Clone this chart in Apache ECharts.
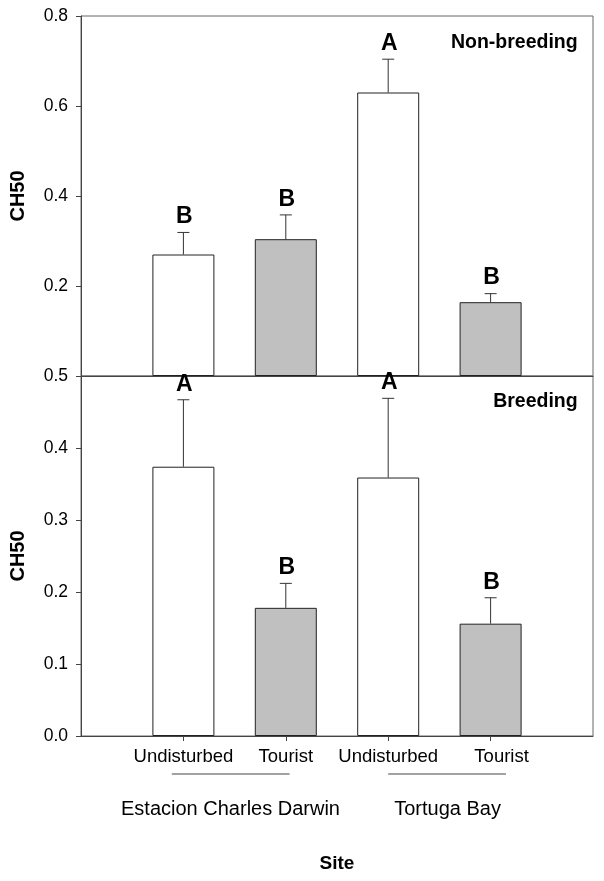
<!DOCTYPE html>
<html>
<head>
<meta charset="utf-8">
<script src="https://cdn.jsdelivr.net/npm/echarts@6/dist/echarts.min.js"></script>
<style>
html,body{margin:0;padding:0;background:#fff;}
#chart{width:604px;height:881px;}
</style>
</head>
<body>
<div id="chart"></div>
<script>
// ---- data ----
const categories = ['Undisturbed', 'Tourist', 'Undisturbed', 'Tourist'];
const sites = ['Estacion Charles Darwin', 'Tortuga Bay'];
const nonBreedingMean = [0.270, 0.304, 0.630, 0.164];
const nonBreedingErr  = [0.049, 0.054, 0.074, 0.019];
const nonBreedingLetters = ['B', 'B', 'A', 'B'];
const breedingMean = [0.374, 0.178, 0.359, 0.156];
const breedingErr  = [0.093, 0.034, 0.110, 0.036];
const breedingLetters = ['A', 'B', 'A', 'B'];
const topTicks = [0.2, 0.4, 0.6, 0.8];
const bottomTicks = [0.0, 0.1, 0.2, 0.3, 0.4, 0.5];

const FONT = 'Liberation Sans, Arial, Helvetica, sans-serif';
const chart = echarts.init(document.getElementById('chart'), null, {renderer: 'canvas'});

function barData(means) { return means.map((v, i) => [i + 1, v]); }
function errData(means, errs, letters) { return means.map((v, i) => [i + 1, v, v + errs[i], letters[i]]); }

function errRender(params, api) {
  const x = api.value(0);
  const top = api.coord([x, api.value(1)]);
  const hi = api.coord([x, api.value(2)]);
  return {
    type: 'group',
    children: [
      {type: 'line', shape: {x1: top[0], y1: top[1], x2: hi[0], y2: hi[1]}, style: {stroke: '#333', lineWidth: 1}},
      {type: 'line', shape: {x1: hi[0] - 6, y1: hi[1], x2: hi[0] + 6, y2: hi[1]}, style: {stroke: '#333', lineWidth: 1}},
      {type: 'text', x: hi[0] + 1, y: hi[1] - 4, style: {text: api.value(3), font: 'bold 23px ' + FONT, fill: '#000', align: 'center', verticalAlign: 'bottom'}}
    ]
  };
}

const fillColor = (p) => (p.dataIndex % 2 === 0 ? '#ffffff' : '#c0c0c0');

const xCommon = {
  type: 'value', min: 0, max: 5, interval: 1,
  splitLine: {show: false},
  axisLine: {show: true, lineStyle: {color: '#444', width: 1}}
};
const yCommon = {
  type: 'value', min: 0,
  splitLine: {show: false},
  axisLine: {show: true, lineStyle: {color: '#444', width: 1}},
  axisTick: {show: true, inside: false, length: 5, lineStyle: {color: '#444'}},
  name: 'CH50', nameLocation: 'middle', nameRotate: 90, nameGap: 53,
  nameTextStyle: {fontFamily: FONT, fontWeight: 'bold', fontSize: 20, color: '#000'}
};

const option = {
  backgroundColor: '#fff',
  animation: false,
  grid: [
    {left: 80, top: 16, width: 513, height: 360, show: true, borderColor: '#666', borderWidth: 1, backgroundColor: 'transparent'},
    {left: 80, top: 376, width: 513, height: 360, show: true, borderColor: '#666', borderWidth: 1, backgroundColor: 'transparent'}
  ],
  xAxis: [
    Object.assign({}, xCommon, {gridIndex: 0, axisTick: {show: false}, axisLabel: {show: false}}),
    Object.assign({}, xCommon, {
      gridIndex: 1,
      axisTick: {show: true, length: 5, lineStyle: {color: '#444'}, customValues: [1, 2, 3, 4]},
      axisLabel: {
        show: true, margin: 11, fontFamily: FONT, fontSize: 18.5, color: '#000',
        customValues: [1, 2, 3, 4],
        formatter: (v) => {
          const i = Math.round(v) - 1;
          if (i < 0 || i >= categories.length) return '';
          return i === 3 ? '{t4|' + categories[i] + '}' : categories[i];
        },
        rich: {t4: {fontFamily: FONT, fontSize: 18.5, color: '#000', padding: [0, 0, 4, 22]}}
      },
      name: 'Site', nameLocation: 'middle', nameGap: 118,
      nameTextStyle: {fontFamily: FONT, fontWeight: 'bold', fontSize: 19, color: '#000'}
    })
  ],
  yAxis: [
    Object.assign({}, yCommon, {
      gridIndex: 0, max: 0.8, interval: 0.2,
      axisLabel: {margin: 13, fontFamily: FONT, fontSize: 17.5, color: '#000',
        formatter: (v) => (topTicks.some(t => Math.abs(t - v) < 1e-9) ? v.toFixed(1) : '')}
    }),
    Object.assign({}, yCommon, {
      gridIndex: 1, max: 0.5, interval: 0.1,
      axisLabel: {margin: 13, fontFamily: FONT, fontSize: 17.5, color: '#000',
        formatter: (v) => (bottomTicks.some(t => Math.abs(t - v) < 1e-9) ? v.toFixed(1) : '')}
    })
  ],
  series: [
    {type: 'bar', xAxisIndex: 0, yAxisIndex: 0, data: barData(nonBreedingMean), barWidth: 62,
      itemStyle: {color: fillColor, borderColor: '#222', borderWidth: 1}},
    {type: 'custom', xAxisIndex: 0, yAxisIndex: 0, data: errData(nonBreedingMean, nonBreedingErr, nonBreedingLetters),
      renderItem: errRender, z: 5, clip: false},
    {type: 'bar', xAxisIndex: 1, yAxisIndex: 1, data: barData(breedingMean), barWidth: 62,
      itemStyle: {color: fillColor, borderColor: '#222', borderWidth: 1}},
    {type: 'custom', xAxisIndex: 1, yAxisIndex: 1, data: errData(breedingMean, breedingErr, breedingLetters),
      renderItem: errRender, z: 5, clip: false}
  ]
};
chart.setOption(option);

// panel titles and group labels positioned from the axes
function px(x, y, gi) { return chart.convertToPixel({xAxisIndex: gi, yAxisIndex: gi}, [x, y]); }
const tTop = px(4.85, 0.74, 0);
const tBot = px(4.85, 0.465, 1);
const g1a = px(0.887, 0, 1), g1b = px(2.037, 0, 1);
const g2a = px(3.0, 0, 1), g2b = px(4.15, 0, 1);
const s1 = px(1.46, 0, 1), s2 = px(3.58, 0, 1);
chart.setOption({
  graphic: [
    {type: 'text', x: tTop[0], y: tTop[1], style: {text: 'Non-breeding', font: 'bold 19.5px ' + FONT, fill: '#000', align: 'right', verticalAlign: 'middle'}},
    {type: 'text', x: tBot[0], y: tBot[1], style: {text: 'Breeding', font: 'bold 19.5px ' + FONT, fill: '#000', align: 'right', verticalAlign: 'middle'}},
    {type: 'line', shape: {x1: g1a[0], y1: g1a[1] + 38, x2: g1b[0], y2: g1b[1] + 38}, style: {stroke: '#444', lineWidth: 1}},
    {type: 'line', shape: {x1: g2a[0], y1: g2a[1] + 38, x2: g2b[0], y2: g2b[1] + 38}, style: {stroke: '#444', lineWidth: 1}},
    {type: 'text', x: s1[0], y: s1[1] + 73, style: {text: sites[0], font: '20px ' + FONT, fill: '#000', align: 'center', verticalAlign: 'middle'}},
    {type: 'text', x: s2[0], y: s2[1] + 73, style: {text: sites[1], font: '20px ' + FONT, fill: '#000', align: 'center', verticalAlign: 'middle'}}
  ]
});
</script>
</body>
</html>
